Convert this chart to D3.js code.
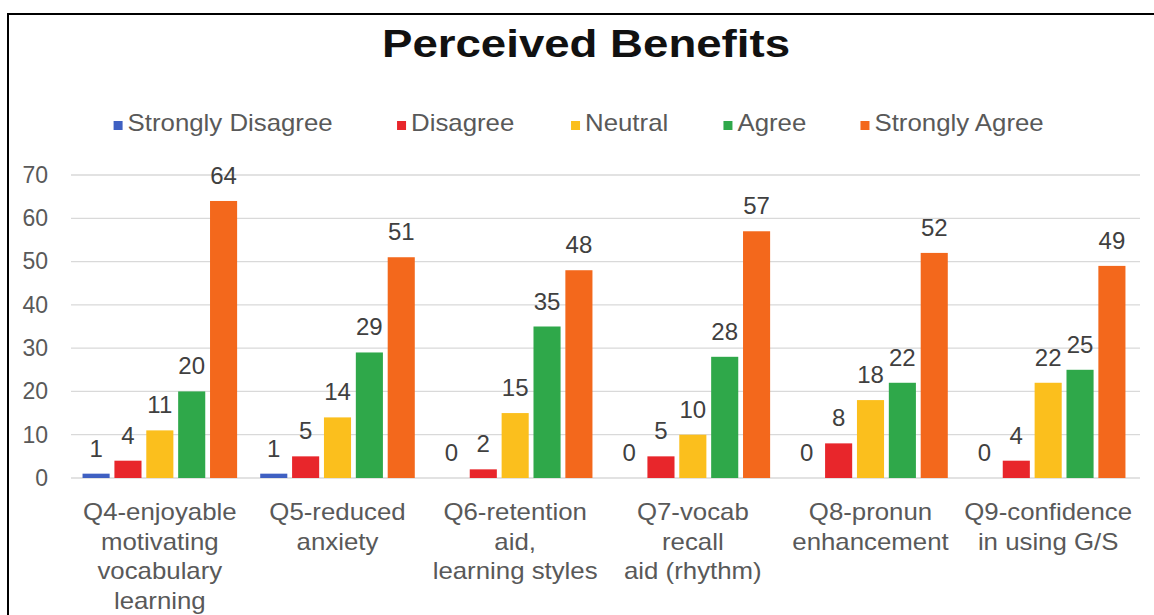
<!DOCTYPE html>
<html>
<head>
<meta charset="utf-8">
<script src="https://cdn.jsdelivr.net/npm/d3@7/dist/d3.min.js"></script>
<style>
  html, body { margin: 0; padding: 0; background: #fff; }
  svg { display: block; font-family: "Liberation Sans", Arial, sans-serif; }
</style>
</head>
<body>
<svg id="chart" width="1154" height="615"></svg>
<script>
// Survey responses per question
const categories = [
  ["Q4-enjoyable", "motivating", "vocabulary", "learning"],
  ["Q5-reduced", "anxiety"],
  ["Q6-retention", "aid,", "learning styles"],
  ["Q7-vocab", "recall", "aid (rhythm)"],
  ["Q8-pronun", "enhancement"],
  ["Q9-confidence", "in using G/S"]
];
const seriesNames = ["Strongly Disagree", "Disagree", "Neutral", "Agree", "Strongly Agree"];
const stronglyDisagree = [1, 1, 0, 0, 0, 0];
const disagree         = [4, 5, 2, 5, 8, 4];
const neutral          = [11, 14, 15, 10, 18, 22];
const agree            = [20, 29, 35, 28, 22, 25];
const stronglyAgree    = [64, 51, 48, 57, 52, 49];
const yTicks = [0, 10, 20, 30, 40, 50, 60, 70];

const seriesValues = [stronglyDisagree, disagree, neutral, agree, stronglyAgree];
const colors = ["#3f60c2", "#e8262b", "#fbbf1d", "#2fa84a", "#f3681c"];

// slightly widened lettering for legend and category text
const WIDEN = 1.075;
function widen(sel) {
  sel.each(function () {
    const len = this.getComputedTextLength();
    d3.select(this).attr("textLength", len * WIDEN).attr("lengthAdjust", "spacingAndGlyphs");
  });
}

const svg = d3.select("#chart");

// outer frame
svg.append("rect")
  .attr("x", 8).attr("y", 14)
  .attr("width", 1170).attr("height", 640)
  .attr("fill", "none").attr("stroke", "#000").attr("stroke-width", 2);

// title
svg.append("text")
  .attr("x", 586).attr("y", 57)
  .attr("text-anchor", "middle")
  .attr("font-size", 38).attr("font-weight", "bold")
  .attr("fill", "#111")
  .attr("textLength", 408).attr("lengthAdjust", "spacingAndGlyphs")
  .text("Perceived Benefits");

// scales
const x0 = d3.scaleBand()
  .domain(d3.range(categories.length))
  .range([71, 1137])
  .paddingInner(0.13).paddingOuter(0.065);
const x1 = d3.scaleBand()
  .domain(d3.range(seriesNames.length))
  .range([0, x0.bandwidth()])
  .paddingInner(0.15);
const y = d3.scaleLinear().domain([0, 70]).range([478, 175]);

// gridlines
svg.append("g").selectAll("line").data(yTicks).join("line")
  .attr("x1", 71).attr("x2", 1140)
  .attr("y1", d => y(d)).attr("y2", d => y(d))
  .attr("stroke", "#d9d9d9").attr("stroke-width", 1.3);

// y axis labels
const yAxis = d3.axisLeft(y).tickValues(yTicks).tickSize(0).tickPadding(0);
const yg = svg.append("g").attr("transform", "translate(48,0)").call(yAxis);
yg.select(".domain").remove();
yg.selectAll("text")
  .attr("font-family", "Liberation Sans, Arial, sans-serif")
  .attr("font-size", 23).attr("fill", "#595959");

// bars
const rows = [];
seriesValues.forEach((vals, s) => vals.forEach((v, c) => rows.push({ s, c, v })));

svg.append("g").selectAll("rect").data(rows.filter(d => d.v > 0)).join("rect")
  .attr("x", d => x0(d.c) + x1(d.s))
  .attr("y", d => y(d.v))
  .attr("width", x1.bandwidth())
  .attr("height", d => y(0) - y(d.v))
  .attr("fill", d => colors[d.s]);

// value labels
svg.append("g").selectAll("text").data(rows).join("text")
  .attr("x", d => x0(d.c) + x1(d.s) + x1.bandwidth() / 2)
  .attr("y", d => y(d.v) - 17)
  .attr("text-anchor", "middle")
  .attr("font-size", 24).attr("fill", "#404040")
  .text(d => d.v);

// category labels, one text element per line
const catLines = [];
categories.forEach((lines, c) => lines.forEach((t, k) => catLines.push({ c, k, t })));
svg.append("g").selectAll("text").data(catLines).join("text")
  .attr("x", d => x0(d.c) + x0.bandwidth() / 2)
  .attr("y", d => 520 + d.k * 29.5)
  .attr("text-anchor", "middle")
  .attr("font-size", 24).attr("fill", "#595959")
  .text(d => d.t)
  .call(widen);

// legend
const legend = svg.append("g");
const items = legend.selectAll("g").data(seriesNames).join("g");
items.append("rect")
  .attr("width", 9).attr("height", 9)
  .attr("y", 121)
  .attr("fill", (d, i) => colors[i]);
items.append("text")
  .attr("x", 14).attr("y", 131)
  .attr("font-size", 24).attr("fill", "#595959")
  .text(d => d)
  .call(widen);
const widths = [];
items.each(function () { widths.push(14 + d3.select(this).select("text").node().getComputedTextLength() * WIDEN); });
const gap = 49;
const total = d3.sum(widths) + gap * (widths.length - 1);
let cx = 585 - total / 2;
items.attr("transform", (d, i) => {
  const t = `translate(${cx},0)`;
  cx += widths[i] + gap;
  return t;
});
</script>
</body>
</html>
